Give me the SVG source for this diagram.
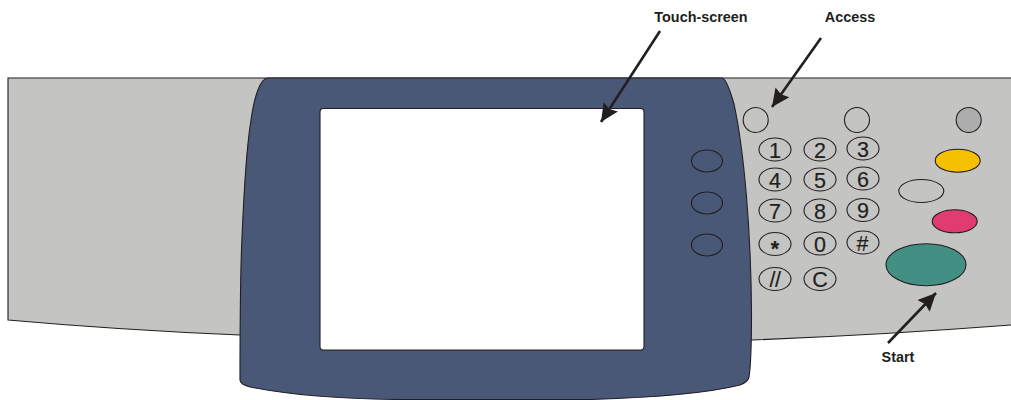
<svg xmlns="http://www.w3.org/2000/svg" width="1011" height="400" viewBox="0 0 1011 400">
<style>
.o{stroke:#231f20;stroke-width:1.1}
.k{fill:none;stroke:#231f20;stroke-width:1.1}
.d{font-family:"Liberation Sans",Arial,sans-serif;font-size:21.500px;fill:#231f20;text-anchor:middle;stroke:#231f20;stroke-width:.2}
.l{font-family:"Liberation Sans",Arial,sans-serif;font-size:14.400px;font-weight:bold;fill:#231f20;text-anchor:middle}
.c{stroke:#231f20;stroke-width:2.600;fill:none;marker-end:url(#a)}
</style>
<defs>
<marker id="a" markerUnits="userSpaceOnUse" markerWidth="24" markerHeight="20" refX="18" refY="9" orient="auto"><path d="M0 0.500L18 9L0 17.500L2.500 9Z" fill="#231f20"/></marker>
</defs>
<rect width="1011" height="400" fill="#fff"/>
<g id="panel"><path class="o" fill="#c4c4c2" d="M1011 78H8V320Q120 330 240 335L752 340Q880 335 1011 325"/></g>
<g id="bezel"><path class="o" fill="#4a5878" d="M268 78H722C726 78 730 90 734 104C744 150 751 230 751.500 313C751.500 345 751 365 749 377C748 381 745 383 740 385C700 395 640 398 590 399.500L400 399.500C340 399 290 395 250 387C243 385 240 383 240 380C240 320 240 280 242 237C244 190 246 150 251 120C254 98 260 78 268 78Z"/></g>
<g id="screen"><rect class="o" x="320" y="108.500" width="324" height="241.500" rx="3.500" fill="#fff"/></g>
<g id="side-buttons"><ellipse class="k" cx="707" cy="161" rx="15.500" ry="11"/><ellipse class="k" cx="707" cy="203" rx="15.500" ry="11"/><ellipse class="k" cx="707" cy="245" rx="15.500" ry="11"/></g>
<g id="access"><circle class="k" cx="755.700" cy="120" r="12.500"/></g>
<g id="round-button"><circle class="k" cx="857" cy="120" r="12.500"/></g>
<g id="grey-button"><circle class="o" cx="968.700" cy="120" r="12.500" fill="#adadad"/></g>
<g id="keypad">
<ellipse class="k" cx="775" cy="149.500" rx="16" ry="11.500"/><text class="d" x="775" y="157.500">1</text>
<ellipse class="k" cx="820" cy="149.500" rx="16" ry="11.500"/><text class="d" x="820" y="157.500">2</text>
<ellipse class="k" cx="863" cy="148.500" rx="16" ry="11.500"/><text class="d" x="863" y="156.500">3</text>
<ellipse class="k" cx="775" cy="179.500" rx="16" ry="11.500"/><text class="d" x="775" y="187.500">4</text>
<ellipse class="k" cx="820" cy="179.500" rx="16" ry="11.500"/><text class="d" x="820" y="187.500">5</text>
<ellipse class="k" cx="863" cy="178.500" rx="16" ry="11.500"/><text class="d" x="863" y="186.500">6</text>
<ellipse class="k" cx="775" cy="210.500" rx="16" ry="11.500"/><text class="d" x="775" y="218.500">7</text>
<ellipse class="k" cx="820" cy="210.500" rx="16" ry="11.500"/><text class="d" x="820" y="218.500">8</text>
<ellipse class="k" cx="863" cy="210" rx="16" ry="11.500"/><text class="d" x="863" y="218">9</text>
<ellipse class="k" cx="775" cy="244" rx="16" ry="11.500"/><text class="d" x="775" y="256" font-weight="bold">*</text>
<ellipse class="k" cx="820" cy="243.500" rx="16" ry="11.500"/><text class="d" x="820" y="251.500">0</text>
<ellipse class="k" cx="863" cy="242.500" rx="16" ry="11.500"/><text class="d" x="862.500" y="250.500">#</text>
<ellipse class="k" cx="775" cy="279" rx="16" ry="11.500"/><text class="d" x="775" y="287" letter-spacing="-0.500">//</text>
<ellipse class="k" cx="820" cy="279" rx="16" ry="11.500"/><text class="d" x="820" y="287">C</text>
</g>
<g id="yellow-button"><ellipse class="o" cx="957.700" cy="160.700" rx="22.500" ry="11.500" fill="#f5c000"/></g>
<g id="white-button"><ellipse class="k" cx="921.300" cy="191" rx="22.500" ry="11.500"/></g>
<g id="pink-button"><ellipse class="o" cx="954.700" cy="221.300" rx="22.500" ry="11.500" fill="#e03c70"/></g>
<g id="start"><ellipse class="o" cx="926" cy="264.700" rx="40" ry="21" fill="#429083"/></g>
<g id="connectors">
<path class="c" d="M660 31L601 122"/>
<path class="c" d="M821 38L772 107"/>
<path class="c" d="M888 343L936 293"/>
</g>
<g id="labels">
<text class="l" x="701" y="21.500">Touch-screen</text>
<text class="l" x="850" y="21.500">Access</text>
<text class="l" x="898" y="361.500">Start</text>
</g>
</svg>
